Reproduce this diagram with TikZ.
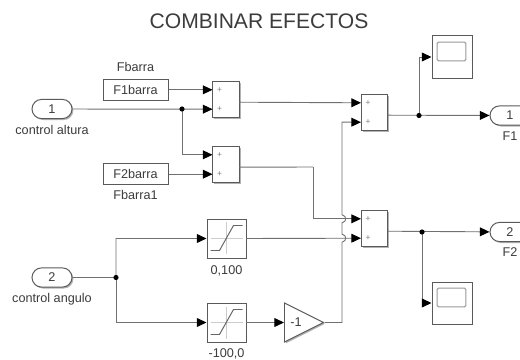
\documentclass[tikz,border=0pt]{standalone}
\usepackage{fontspec}
\setmainfont{Liberation Sans}
\definecolor{wirecol}{HTML}{707070}
\definecolor{boxcol}{HTML}{5A5A5A}
\definecolor{labelcol}{HTML}{3C3C3C}
\usetikzlibrary{arrows.meta,positioning,calc,shadows,shapes.geometric,shapes.misc}
\tikzset{
  blk/.style    = {draw=boxcol,fill=white,line width=0.7pt,inner sep=0pt,text=labelcol,
                   font=\fontsize{9}{10}\selectfont,align=center,
                   drop shadow={shadow xshift=0.35mm,shadow yshift=-0.35mm,opacity=.5,fill=black!60}},
  constb/.style = {blk,minimum width=16.25mm,minimum height=5.25mm},
  sumb/.style   = {blk,minimum width=6.6mm,minimum height=8.9mm},
  satb/.style   = {blk,minimum width=9.75mm,minimum height=9.75mm},
  scopeb/.style = {blk,minimum width=10mm,minimum height=10.5mm},
  screen/.style = {draw=black!40,rounded corners=1pt,line width=0.7pt,minimum width=7.2mm,
                   minimum height=4.7mm,inner sep=0pt},
  gainb/.style  = {blk,isosceles triangle,isosceles triangle stretches,minimum width=9.75mm,
                   minimum height=9.75mm},
  port/.style   = {blk,rounded rectangle,minimum width=10mm,minimum height=4.8mm},
  lbl/.style    = {font=\fontsize{9}{10}\selectfont,text=labelcol,inner sep=0pt},
  plus/.style   = {font=\fontsize{6}{6}\selectfont,text=black!50,inner sep=0pt},
  dotj/.style   = {circle,fill=black,inner sep=0pt,minimum size=1.3mm},
  wire/.style   = {draw=wirecol,line width=0.65pt},
  sig/.style    = {wire,-{Triangle[length=2.4mm,width=2.2mm,color=black]}},
  axis/.style   = {draw=black!20,line width=0.5pt},
  curve/.style  = {draw=black!60,line width=0.7pt},
}
\begin{document}
\begin{tikzpicture}[x=0.025cm,y=-0.025cm]
    \useasboundingbox[clip] (0,0) rectangle (520,360);
    \fill[white] (0,0) rectangle (520,360);
    \node[font=\fontsize{15}{16}\selectfont,text=labelcol,inner sep=0pt] (title) at (259,21) {COMBINAR EFECTOS};
    % ports
    \node[port] (inA) at (52,109) {1};
    \node[port] (inB) at (52,277.5) {2};
    \node[port] (outA) at (510,115.5) {1};
    \node[port] (outB) at (510,232) {2};
    \node[lbl,below=2.7mm of inA.south,anchor=center] (lblinA) {control altura};
    \node[lbl,below=2.9mm of inB.south,anchor=center] (lblinB) {control angulo};
    \node[lbl,below=2.6mm of outA.south,anchor=center] (lbloutA) {F1};
    \node[lbl,below=2.6mm of outB.south,anchor=center] (lbloutB) {F2};
    % constants
    \node[constb] (fA) at (135.5,89.5) {F1barra};
    \node[constb] (fB) at (135.5,173.5) {F2barra};
    \node[lbl,above=2.9mm of fA.north,anchor=center] (lblfA) {Fbarra};
    \node[lbl,below=2.7mm of fB.south,anchor=center] (lblfB) {Fbarra1};
    % sums
    \foreach \s/\x/\y in {sumA/226/99.5,sumB/226/164.5,sumC/374.5/112.5,sumD/374.5/228.5}{
      \node[sumb] (\s) at (\x,\y) {};
      \coordinate (\s i) at (\x-13.5,\y-9.7);
      \coordinate (\s j) at (\x-13.5,\y+9.7);
      \coordinate (\s o) at (\x+13,\y+2.7);
      \node[plus] (\s p) at (\x-6.5,\y-9.7) {+};
      \node[plus] (\s q) at (\x-6.5,\y+9.7) {+};
    }
    % saturations
    \foreach \n/\y in {satA/238.5,satB/322.5}{
      \node[satb] (\n) at (226.5,\y) {};
      \draw[axis] ($(\n)+(-16,0)$) -- ++(32,0);
      \draw[axis] ($(\n)+(0,-16)$) -- ++(0,32);
      \draw[curve] ($(\n)+(-16,12)$) -- ++(9,0) -- ++(14,-25) -- ++(9,0);
    }
    \node[lbl,below=3mm of satA.south,anchor=center] (lblsatA) {0,100};
    \node[lbl,below=2.8mm of satB.south,anchor=center] (lblsatB) {-100,0};
    % gain
    \node[gainb,anchor=lower side] (gain) at (284,322.5) {};
    \node[lbl] (gainval) at (296,322.5) {-1};
    % scopes
    \foreach \n/\y/\z in {scopeA/57/51.5,scopeB/303/297.5}{
      \node[scopeb] (\n) at (452,\y) {};
      \node[screen] (\n s) at (451.5,\z) {};
    }
    % junctions
    \coordinate (dA) at (182,109);
    \coordinate (dB) at (116,277.5);
    \coordinate (dC) at (419,115.5);
    \coordinate (dD) at (422,232);
    \coordinate (upD) at (342,122);
    \coordinate (overA) at (313,167);
    % wires
    \draw[sig] (fA.east |- sumAi) -- (sumAi);
    \draw[sig] (inA) -- (sumAj);
    \draw[sig] (dA) |- (sumBi);
    \draw[sig] (fB.east |- sumBj) -- (sumBj);
    \draw[sig] (sumAo) -- (sumCi);
    \draw[wire] (sumBo) -- (overA);
    \draw[sig] (overA) |- (sumDi);
    \draw[sig] (inB) -- (dB) |- (satA);
    \draw[sig] (dB) |- (satB);
    \draw[sig] (satA.east) -- (sumDj);
    \draw[sig] (satB) -- (gain.lower side);
    % gain wire hops over the two lines
    \draw[sig] (gain.apex) -| ($(upD |- sumDj)+(0,4)$)
      .. controls +(5,-1) and +(5,1) .. ($(upD |- sumDj)+(0,-4)$)
      -- ($(upD |- sumDi)+(0,4)$)
      .. controls +(5,-1) and +(5,1) .. ($(upD |- sumDi)+(0,-4)$)
      |- (sumCj);
    \draw[sig] (sumCo) -- (outA);
    \draw[sig] (sumDo) -- (outB);
    \draw[sig] (dC) |- (scopeA.west);
    \draw[sig] (dD) |- (scopeB.west);
    \foreach \d in {dA,dB,dC,dD}{
      \node[dotj] (\d n) at (\d) {};
    }
  \end{tikzpicture}
\end{document}
